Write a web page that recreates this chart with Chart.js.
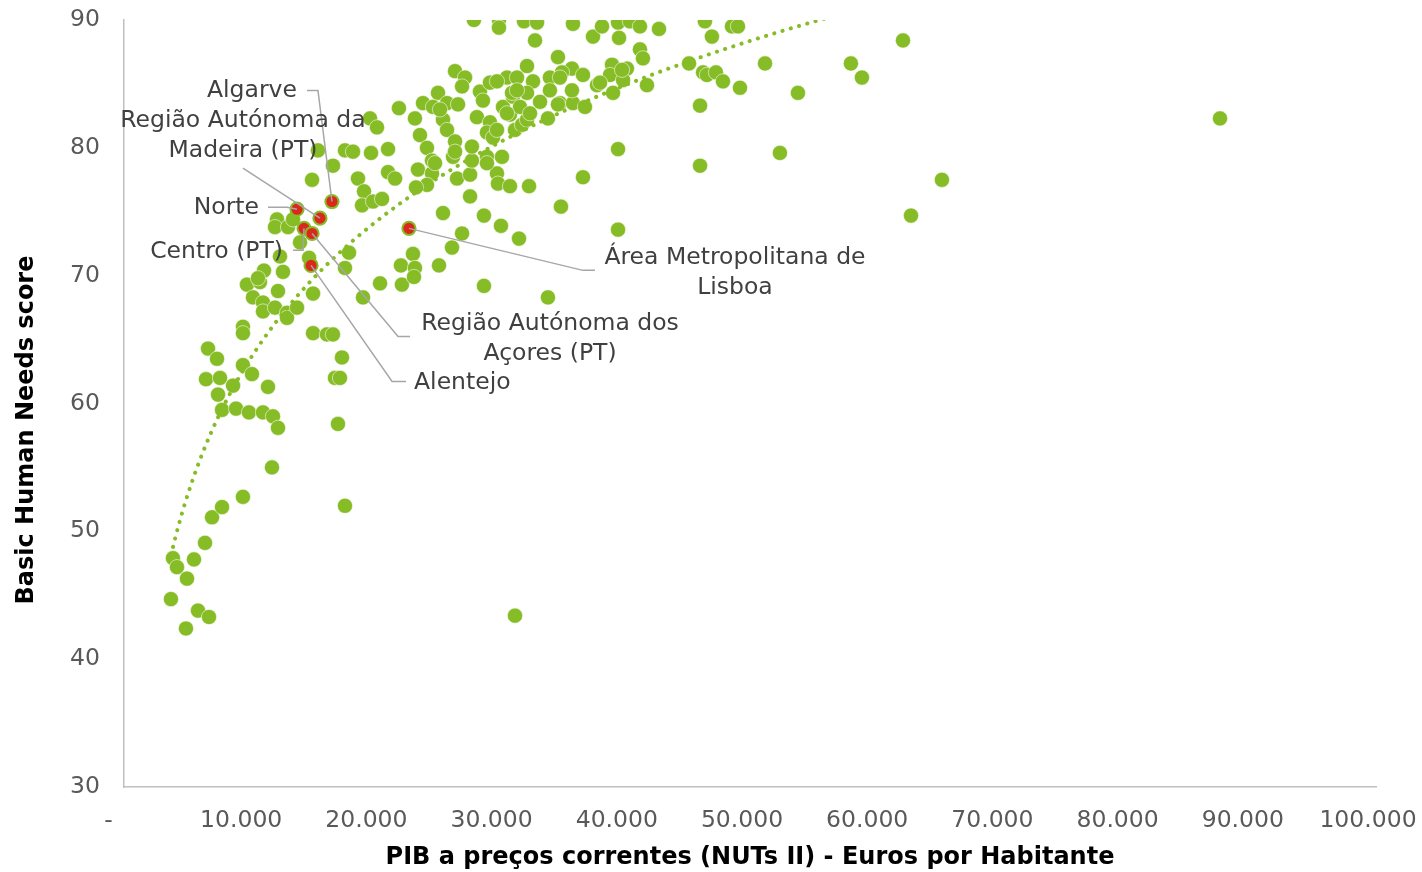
<!DOCTYPE html>
<html>
<head>
<meta charset="utf-8">
<script src="https://cdn.jsdelivr.net/npm/chart.js@4.4.1/dist/chart.umd.min.js"></script>
<style>
html, body { margin: 0; padding: 0; background: #fff; }
#wrap { width: 1422px; height: 872px; }
</style>
</head>
<body>
<div id="wrap"><canvas id="chart" width="1422" height="872"></canvas></div>
<script>
// NUTS II regions: GDP per inhabitant (EUR) and Basic Human Needs score
const gdpPerCapita = [
  3750, 4950, 5910, 6790, 3910, 4230, 5030, 5590, 6470, 7030, 7830, 9500, 11820, 17650, 31230,
  6710, 7430, 9500, 10220, 6550, 7670, 8710, 7510, 7830, 8950, 9980, 11100, 11900, 12300, 11500,
  9500, 9500, 15100, 16210, 16690, 17410, 16850, 17250, 17090,
  9820, 10860, 10300, 11100, 11100, 12060, 13020, 13020, 13820, 12300, 15100, 11180, 10700, 12700, 12460, 14780,
  19090, 20450, 22200, 22120, 23080, 23240, 23160, 25160, 28750, 33860, 17970, 17650,
  12220, 12060, 13100, 13500, 14060, 15020, 16690, 17650, 18290, 19730, 19650, 20210,
  18690, 19170, 19010, 19890, 20610, 21090, 21650, 23480, 24600, 24200, 23320, 21090,
  26600, 27640, 27640, 29790, 29870, 30830, 32350, 25480, 28750, 30110, 31550, 34900, 27000, 26200, 15490,
  27950, 29950, 29950, 31950, 32990, 35860, 32830, 34660, 37460, 38180, 39460, 39540, 40410, 41210, 41210, 41450, 42730,
  26440, 27240, 27000, 28430, 32190, 35780, 36660, 37780, 30590, 31390, 29230, 29790, 32670, 34020, 34980,
  25080, 23880, 24680, 25800, 26680, 21960, 23240, 23640, 25480, 25800, 26440, 24200, 24600,
  26280, 27790, 27790, 28190, 29230, 28990, 29470, 28990, 28990, 30190, 30830, 31230, 31790, 32190,
  30270, 31070, 31630, 32190, 33230, 34020, 33860, 34820, 35860, 36820, 36660, 34820, 35780,
  38980, 38820, 40170, 39860, 39060, 41770, 39460, 39460, 24840, 26440,
  45130, 46250, 46560, 47280, 47840, 49200, 46010, 46010, 51200, 52390, 53830, 58060, 58940, 62220, 62860, 65330, 87540,
  46400, 46960, 48560, 49040,
  28670, 30990, 38020, 39780, 31390, 32430, 30590, 29790, 34660, 25240
];
const bhnScore = [
  44.7, 42.4, 43.8, 43.3, 47.9, 47.2, 46.3, 47.8, 49.1, 51.1, 51.9, 52.7, 55.0, 52.0, 43.4,
  64.3, 63.5, 63.0, 62.3, 61.9, 62.0, 61.4, 60.7, 59.5, 59.6, 59.3, 59.3, 59.0, 58.1, 61.3,
  66.0, 65.5, 65.5, 65.4, 65.4, 63.6, 62.0, 62.0, 58.4,
  69.3, 69.5, 68.3, 67.9, 67.2, 67.5, 67.1, 66.7, 67.5, 68.8, 68.6, 70.4, 69.8, 70.3, 71.5, 71.4,
  68.3, 69.4, 69.3, 70.8, 71.7, 70.6, 69.9, 70.8, 69.2, 68.3, 71.8, 70.6,
  74.4, 73.8, 73.8, 74.4, 72.6, 77.5, 78.6, 79.8, 79.7, 79.6, 82.3, 81.6,
  77.6, 76.6, 75.5, 75.8, 76.0, 78.1, 77.6, 78.3, 78.0, 77.1, 76.9, 79.9,
  77.6, 77.9, 76.2, 78.0, 77.2, 77.0, 77.0, 74.9, 74.7, 73.9, 72.9, 75.4, 73.3, 72.2, 79.8,
  90.0, 90.0, 89.4, 89.9, 89.8, 89.7, 88.4, 87.1, 88.7, 89.5, 89.8, 88.6, 89.9, 89.5, 87.7, 87.0, 89.3,
  86.0, 85.5, 84.8, 84.4, 86.4, 86.2, 85.7, 84.9, 85.5, 85.5, 85.1, 85.2, 85.2, 85.5, 85.9,
  84.3, 83.5, 83.2, 83.5, 83.4, 83.1, 82.3, 81.0, 82.2, 81.4, 80.5, 80.0, 79.0,
  79.3, 79.0, 80.1, 82.4, 82.0, 81.2, 80.8, 79.3, 78.8, 79.3, 82.6, 81.4, 81.8, 82.2,
  83.2, 84.0, 83.2, 84.3, 83.6, 84.5, 82.3, 83.5, 83.5, 83.2, 77.7, 85.5, 84.5,
  86.5, 85.7, 86.2, 85.3, 84.3, 84.9, 79.9, 73.6, 78.8, 79.7,
  86.6, 85.9, 85.7, 85.9, 85.2, 84.7, 83.3, 78.6, 86.6, 79.6, 84.3, 86.6, 85.5, 88.4, 74.7, 77.5, 82.3,
  89.9, 88.7, 89.5, 89.5,
  83.7, 84.3, 85.1, 86.1, 84.5, 82.7, 82.7, 81.4, 83.4, 83.0
];

// Portuguese regions (highlighted)
const ptRegions = ['Algarve', 'Região Autónoma da Madeira (PT)', 'Norte', 'Centro (PT)',
  'Área Metropolitana de Lisboa', 'Região Autónoma dos Açores (PT)', 'Alentejo'];
const ptGdp = [16610, 15650, 13820, 14380, 22760, 15020, 14940];
const ptScore = [75.8, 74.5, 75.2, 73.7, 73.7, 73.3, 70.8];

const xTickValues = [0, 10000, 20000, 30000, 40000, 50000, 60000, 70000, 80000, 90000, 100000];
const yTickValues = [30, 40, 50, 60, 70, 80, 90];

const GREEN = '#86BC25';
const RED = '#DA291C';
const FONT = "'DejaVu Sans', Verdana, sans-serif";

// label placement, pixels relative to the point
const labelLayout = [
  { lines: ['Algarve'], dx: -35, dy: -111, align: 'right', leader: [[-14, -111], [-25, -111]] },
  { lines: ['Região Autónoma da', 'Madeira (PT)'], dx: -77, dy: -97, align: 'center', leader: [[-77, -50]] },
  { lines: ['Norte'], dx: -38, dy: -1, align: 'right', leader: [[-10, -2], [-29, -2]] },
  { lines: ['Centro (PT)'], dx: -21, dy: 24, align: 'right', leader: [[-1, 22], [-11, 22]] },
  { lines: ['Área Metropolitana de', 'Lisboa'], dx: 326, dy: 30, align: 'center', leader: [[174, 42], [186, 42]] },
  { lines: ['Região Autónoma dos', 'Açores (PT)'], dx: 238, dy: 90, align: 'center', leader: [[86, 103], [98, 103]] },
  { lines: ['Alentejo'], dx: 103, dy: 117, align: 'left', leader: [[81, 116], [95, 116]] }
];

function toPoints(xs, ys) {
  return xs.map((x, i) => ({ x: x, y: ys[i] }));
}

// logarithmic trendline, least squares on ln(x)
function logFit(xs, ys) {
  let n = xs.length, sx = 0, sy = 0, sxx = 0, sxy = 0;
  for (let i = 0; i < n; i++) {
    const lx = Math.log(xs[i]);
    sx += lx; sy += ys[i]; sxx += lx * lx; sxy += lx * ys[i];
  }
  const a = (n * sxy - sx * sy) / (n * sxx - sx * sx);
  const b = (sy - a * sx) / n;
  return { a: a, b: b };
}

const allX = gdpPerCapita.concat(ptGdp);
const allY = bhnScore.concat(ptScore);
const fit = logFit(allX, allY);
const xMin = Math.min.apply(null, allX);
const xMax = Math.max.apply(null, allX);
const trend = [];
for (let i = 0; i <= 300; i++) {
  const x = xMin + (xMax - xMin) * i / 300;
  trend.push({ x: x, y: fit.a * Math.log(x) + fit.b });
}

function fmtThousands(v) {
  if (v === 0) return '-  ';
  return String(v).replace(/\B(?=(\d{3})+(?!\d))/g, '.');
}

const labelsPlugin = {
  id: 'ptLabels',
  afterDatasetsDraw(chart) {
    const ctx = chart.ctx;
    const xs = chart.scales.x, ys = chart.scales.y;
    ctx.save();
    ptGdp.forEach((g, i) => {
      const px = xs.getPixelForValue(g);
      const py = ys.getPixelForValue(ptScore[i]);
      const lay = labelLayout[i];
      ctx.strokeStyle = '#a6a6a6';
      ctx.lineWidth = 1.5;
      ctx.beginPath();
      ctx.moveTo(px, py);
      lay.leader.forEach(p => ctx.lineTo(px + p[0], py + p[1]));
      ctx.stroke();
      ctx.fillStyle = '#404040';
      ctx.font = '23.5px ' + FONT;
      ctx.textAlign = lay.align;
      ctx.textBaseline = 'middle';
      lay.lines.forEach((t, k) => ctx.fillText(t, px + lay.dx, py + lay.dy + k * 30));
    });
    // vertical axis title
    ctx.translate(27, 430);
    ctx.rotate(-Math.PI / 2);
    ctx.fillStyle = '#000';
    ctx.font = 'bold 24px ' + FONT;
    ctx.textAlign = 'center';
    ctx.textBaseline = 'middle';
    ctx.fillText('Basic Human Needs score', 0, 0);
    ctx.restore();
  }
};

new Chart(document.getElementById('chart'), {
  type: 'scatter',
  data: {
    datasets: [
      {
        label: 'Portugal',
        data: toPoints(ptGdp, ptScore),
        backgroundColor: RED,
        borderColor: GREEN,
        borderWidth: 2,
        pointRadius: 6.6
      },
      {
        label: 'Trend',
        type: 'line',
        data: trend,
        showLine: true,
        borderColor: GREEN,
        borderWidth: 4,
        borderDash: [0.1, 8.5],
        borderCapStyle: 'round',
        pointRadius: 0,
        fill: false,
        clip: 0
      },
      {
        label: 'NUTS II',
        data: toPoints(gdpPerCapita, bhnScore),
        backgroundColor: GREEN,
        borderColor: 'rgba(255,255,255,0.7)',
        borderWidth: 0.8,
        pointRadius: 7.6
      }
    ]
  },
  options: {
    responsive: false,
    animation: false,
    devicePixelRatio: 1,
    layout: { padding: { left: 0, right: 46, top: 20, bottom: 0 } },
    plugins: { legend: { display: false }, tooltip: { enabled: false } },
    scales: {
      x: {
        type: 'linear',
        min: 0,
        max: 100000,
        afterBuildTicks: s => { s.ticks = xTickValues.map(v => ({ value: v })); },
        afterFit: s => { s.height = 85; s.paddingLeft = 0; s.paddingRight = 0; },
        grid: { display: false, drawTicks: false },
        border: { color: '#bfbfbf', width: 1.5 },
        ticks: {
          color: '#595959',
          font: { family: FONT, size: 23.5 },
          padding: 20,
          labelOffset: -8,
          maxRotation: 0,
          autoSkip: false,
          callback: v => fmtThousands(v)
        },
        title: {
          display: true,
          text: 'PIB a preços correntes (NUTs II) - Euros por Habitante',
          color: '#000',
          font: { family: FONT, size: 24, weight: 'bold' },
          padding: { top: 0, bottom: 0 }
        }
      },
      y: {
        type: 'linear',
        min: 30,
        max: 90,
        afterBuildTicks: s => { s.ticks = yTickValues.map(v => ({ value: v })); },
        afterFit: s => { s.width = 124; s.paddingTop = 0; s.paddingBottom = 0; },
        grid: { display: false, drawTicks: false },
        border: { color: '#bfbfbf', width: 1.5 },
        ticks: {
          color: '#595959',
          font: { family: FONT, size: 23.5 },
          padding: 24,
          autoSkip: false
        }
      }
    }
  },
  plugins: [labelsPlugin]
});
</script>
</body>
</html>
